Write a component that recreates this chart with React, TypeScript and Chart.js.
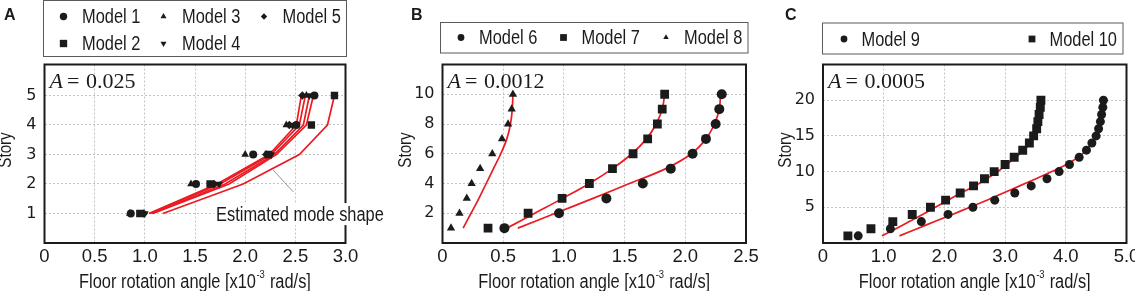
import React, { useEffect, useRef } from "react";
import { Chart, registerables } from "chart.js";
import { drawPoint } from "chart.js/helpers";

Chart.register(...registerables);

// ===== Panel A (A = 0.025), stories 1-5 =====
const storiesA = [1, 2, 3, 4, 5];
const model1 = [0.86, 1.51, 2.08, 2.51, 2.69];
const model2 = [0.95, 1.65, 2.23, 2.66, 2.89];
const model3 = [0.85, 1.46, 2.0, 2.41, 2.61];
const model4 = [1.0, 1.74, 2.26, 2.47, 2.64];
const model5 = [0.99, 1.69, 2.21, 2.44, 2.57];
const shapeModel1 = [1.08, 1.84, 2.31, 2.61, 2.68];
const shapeModel2 = [1.18, 1.98, 2.54, 2.82, 2.89];
const shapeModel3 = [1.05, 1.75, 2.26, 2.54, 2.6];
const shapeModel4 = [1.07, 1.8, 2.29, 2.58, 2.64];
const shapeModel5 = [1.04, 1.72, 2.24, 2.51, 2.56];
const xTicksA = [0, 0.5, 1.0, 1.5, 2.0, 2.5, 3.0];
const yTicksA = [1, 2, 3, 4, 5];

// ===== Panel B (A = 0.0012), stories 1-10 =====
const storiesB = [1, 2, 3, 4, 5, 6, 7, 8, 9, 10];
const model6 = [0.51, 0.96, 1.35, 1.65, 1.88, 2.06, 2.17, 2.25, 2.28, 2.3];
const model7 = [0.375, 0.705, 0.985, 1.21, 1.4, 1.57, 1.69, 1.77, 1.81, 1.83];
const model8 = [0.07, 0.14, 0.2, 0.24, 0.31, 0.41, 0.49, 0.54, 0.57, 0.58];
const shapeModel6 = [0.62, 0.93, 1.24, 1.54, 1.84, 2.05, 2.17, 2.24, 2.28, 2.29];
const shapeModel7 = [0.53, 0.76, 0.99, 1.21, 1.4, 1.56, 1.68, 1.76, 1.81, 1.83];
const shapeModel8 = [0.17, 0.235, 0.3, 0.36, 0.42, 0.48, 0.53, 0.56, 0.575, 0.58];
const xTicksB = [0, 0.5, 1.0, 1.5, 2.0, 2.5];
const yTicksB = [2, 4, 6, 8, 10];

// ===== Panel C (A = 0.0005), stories 1-20 =====
const storiesC = [1, 2, 3, 4, 5, 6, 7, 8, 9, 10, 11, 12, 13, 14, 15, 16, 17, 18, 19, 20];
const model9 = [0.58, 1.11, 1.62, 2.06, 2.47, 2.83, 3.16, 3.43, 3.69, 3.89, 4.06, 4.22, 4.34, 4.43, 4.5, 4.54, 4.57, 4.59, 4.61, 4.62];
const model10 = [0.41, 0.79, 1.15, 1.47, 1.77, 2.02, 2.26, 2.48, 2.66, 2.82, 3.0, 3.15, 3.29, 3.4, 3.47, 3.52, 3.54, 3.56, 3.58, 3.59];
const shapeModel9 = [1.26, 1.55, 1.84, 2.13, 2.42, 2.7, 2.97, 3.24, 3.51, 3.77, 4.01, 4.2, 4.34, 4.43, 4.49, 4.53, 4.56, 4.57, 4.58, 4.58];
const shapeModel10 = [0.97, 1.2, 1.42, 1.64, 1.85, 2.06, 2.27, 2.5, 2.7, 2.88, 3.03, 3.17, 3.31, 3.41, 3.47, 3.51, 3.54, 3.56, 3.57, 3.58];
const xTicksC = [0, 1.0, 2.0, 3.0, 4.0, 5.0];
const yTicksC = [5, 10, 15, 20];

// ---------- styling ----------
const SANS = '"Liberation Sans", Arial, sans-serif';
const SERIF = '"Liberation Serif", "Times New Roman", serif';
const INK = "#1b1b1b";
const RED = "#ea1b22";
const H = 291;
const NARROW_SCALE = 0.82;

type MarkerDef = {
  label: string;
  xs: number[];
  ys: number[];
  style: string;
  rotation: number;
  r: number;
  lr: number;
  col: number;
  row: number;
};
type LineDef = { xs: number[]; ys: number[]; tension: number };

type PanelCfg = {
  canvasLeft: number;
  canvasWidth: number;
  area: { left: number; right: number; top: number; bottom: number };
  xMax: number;
  yMax: number;
  xTicks: number[];
  yTicks: number[];
  letter: string;
  letterX: number;
  aValue: string;
  storyX: number;
  legend: { x: number; y: number; w: number; h: number; cols: number[]; rows: number[]; textOff: number };
  markers: MarkerDef[];
  lines: LineDef[];
  note?: { text: string; at: { x: number; y: number }; from: { x: number; y: number }; to: { x: number; y: number } };
};

const panels: PanelCfg[] = [
  {
    canvasLeft: 0,
    canvasWidth: 390,
    area: { left: 44.5, right: 345.5, top: 64.5, bottom: 243 },
    xMax: 3.0,
    yMax: 6.05,
    xTicks: xTicksA,
    yTicks: yTicksA,
    letter: "A",
    letterX: 4,
    aValue: "0.025",
    storyX: 11,
    legend: { x: 43.5, y: 0.5, w: 303, h: 56, cols: [63.5, 163.5, 264], rows: [16.5, 43.5], textOff: 18.5 },
    markers: [
      { label: "Model 1", xs: model1, ys: storiesA, style: "circle", rotation: 0, r: 4, lr: 3.7, col: 0, row: 0 },
      { label: "Model 2", xs: model2, ys: storiesA, style: "rect", rotation: 0, r: 5.2, lr: 5.2, col: 0, row: 1 },
      { label: "Model 3", xs: model3, ys: storiesA, style: "triangle", rotation: 0, r: 4.4, lr: 3.5, col: 1, row: 0 },
      { label: "Model 4", xs: model4, ys: storiesA, style: "triangle", rotation: 180, r: 4.4, lr: 3.5, col: 1, row: 1 },
      { label: "Model 5", xs: model5, ys: storiesA, style: "rectRot", rotation: 0, r: 4.2, lr: 3.2, col: 2, row: 0 },
    ],
    lines: [
      { xs: shapeModel1, ys: storiesA, tension: 0 },
      { xs: shapeModel2, ys: storiesA, tension: 0 },
      { xs: shapeModel3, ys: storiesA, tension: 0 },
      { xs: shapeModel4, ys: storiesA, tension: 0 },
      { xs: shapeModel5, ys: storiesA, tension: 0 },
    ],
    note: { text: "Estimated mode shape", at: { x: 1.71, y: 0.98 }, from: { x: 2.28, y: 2.47 }, to: { x: 2.48, y: 1.73 } },
  },
  {
    canvasLeft: 390,
    canvasWidth: 380,
    area: { left: 442.5, right: 746, top: 64.5, bottom: 243 },
    xMax: 2.5,
    yMax: 12,
    xTicks: xTicksB,
    yTicks: yTicksB,
    letter: "B",
    letterX: 411,
    aValue: "0.0012",
    storyX: 411,
    legend: { x: 440.5, y: 22.5, w: 307.5, h: 30.5, cols: [461, 563.5, 666], rows: [37.5], textOff: 18 },
    markers: [
      { label: "Model 6", xs: model6, ys: storiesB, style: "circle", rotation: 0, r: 5, lr: 3.4, col: 0, row: 0 },
      { label: "Model 7", xs: model7, ys: storiesB, style: "rect", rotation: 0, r: 6.2, lr: 4.8, col: 1, row: 0 },
      { label: "Model 8", xs: model8, ys: storiesB, style: "triangle", rotation: 0, r: 4.8, lr: 3.2, col: 2, row: 0 },
    ],
    lines: [
      { xs: shapeModel6, ys: storiesB, tension: 0.4 },
      { xs: shapeModel7, ys: storiesB, tension: 0.4 },
      { xs: shapeModel8, ys: storiesB, tension: 0.4 },
    ],
  },
  {
    canvasLeft: 770,
    canvasWidth: 365,
    area: { left: 823, right: 1126.5, top: 64.5, bottom: 243 },
    xMax: 5.0,
    yMax: 25,
    xTicks: xTicksC,
    yTicks: yTicksC,
    letter: "C",
    letterX: 785,
    aValue: "0.0005",
    storyX: 791,
    legend: { x: 822.5, y: 23, w: 300.5, h: 31, cols: [844, 1032], rows: [39], textOff: 17.5 },
    markers: [
      { label: "Model 9", xs: model9, ys: storiesC, style: "circle", rotation: 0, r: 4.5, lr: 3.4, col: 0, row: 0 },
      { label: "Model 10", xs: model10, ys: storiesC, style: "rect", rotation: 0, r: 6.3, lr: 4.8, col: 1, row: 0 },
    ],
    lines: [
      { xs: shapeModel9, ys: storiesC, tension: 0.4 },
      { xs: shapeModel10, ys: storiesC, tension: 0.4 },
    ],
  },
];

const toPoints = (xs: number[], ys: number[]) => xs.map((x, i) => ({ x, y: ys[i] }));

// condensed text (emulates a narrow sans face by horizontal scaling)
function narrowWidth(ctx: CanvasRenderingContext2D, text: string, size: number) {
  ctx.font = `${size}px ${SANS}`;
  return ctx.measureText(text).width * NARROW_SCALE;
}
function fillNarrow(ctx: CanvasRenderingContext2D, text: string, x: number, y: number, size: number) {
  ctx.save();
  ctx.font = `${size}px ${SANS}`;
  ctx.translate(x, y);
  ctx.scale(NARROW_SCALE, 1);
  ctx.textAlign = "left";
  ctx.fillText(text, 0, 0);
  ctx.restore();
}

const decorPlugin = {
  id: "decor",
  afterDraw(chart: any, _args: any, o: any) {
    const cfg: PanelCfg = o.cfg;
    const off = cfg.canvasLeft;
    const ctx = chart.ctx as CanvasRenderingContext2D;
    const { left, right, top, bottom } = chart.chartArea;
    const sx = chart.scales.x;
    const sy = chart.scales.y;
    ctx.save();

    // plot frame
    ctx.strokeStyle = INK;
    ctx.lineWidth = 2;
    ctx.strokeRect(left, top, right - left, bottom - top);

    // "A = value" label
    ctx.fillStyle = INK;
    ctx.textBaseline = "alphabetic";
    ctx.textAlign = "left";
    const ax = left + 5;
    const ay = top + 23.5;
    ctx.font = `italic 22px ${SERIF}`;
    ctx.fillText("A", ax, ay);
    ctx.font = `22px ${SERIF}`;
    ctx.fillText("=", ax + 17.5, ay);
    ctx.fillText(cfg.aValue, ax + 36.5, ay);

    // panel letter
    ctx.font = `bold 16px ${SANS}`;
    ctx.fillText(cfg.letter, cfg.letterX - off, 20);

    // x-axis title with superscript
    const cx = (left + right) / 2;
    const p1 = "Floor rotation angle [x10";
    const p2 = "-3";
    const p3 = " rad/s]";
    const w1 = narrowWidth(ctx, p1, 20);
    const w2 = narrowWidth(ctx, p2, 11.5);
    const w3 = narrowWidth(ctx, p3, 20);
    const tx = cx - (w1 + w2 + w3 + 1) / 2;
    fillNarrow(ctx, p1, tx, 288, 20);
    fillNarrow(ctx, p2, tx + w1 + 0.5, 277.5, 11.5);
    fillNarrow(ctx, p3, tx + w1 + w2 + 1, 288, 20);

    // y-axis title
    ctx.save();
    ctx.translate(cfg.storyX - off, 150);
    ctx.rotate(-Math.PI / 2);
    const sw = narrowWidth(ctx, "Story", 18.5);
    fillNarrow(ctx, "Story", -sw / 2, 0, 18.5);
    ctx.restore();

    // legend box
    const lg = cfg.legend;
    ctx.strokeStyle = "#5a5a5a";
    ctx.lineWidth = 1;
    ctx.strokeRect(lg.x - off, lg.y, lg.w, lg.h);
    ctx.textBaseline = "middle";
    for (const m of cfg.markers) {
      const mx = lg.cols[m.col] - off;
      const my = lg.rows[m.row];
      ctx.fillStyle = INK;
      drawPoint(ctx, { pointStyle: m.style as any, rotation: m.rotation, radius: m.lr, borderWidth: 0 } as any, mx, my);
      fillNarrow(ctx, m.label, mx + lg.textOff, my + 1, 20);
    }

    // annotation
    if (cfg.note) {
      const n = cfg.note;
      ctx.strokeStyle = "#8a8a8a";
      ctx.lineWidth = 0.9;
      ctx.beginPath();
      ctx.moveTo(sx.getPixelForValue(n.from.x), sy.getPixelForValue(n.from.y));
      ctx.lineTo(sx.getPixelForValue(n.to.x), sy.getPixelForValue(n.to.y));
      ctx.stroke();
      const tw = narrowWidth(ctx, n.text, 20);
      const px = sx.getPixelForValue(n.at.x);
      const py = sy.getPixelForValue(n.at.y);
      ctx.fillStyle = "#ffffff";
      ctx.fillRect(px - 2, py - 11, tw + 4, 22);
      ctx.fillStyle = INK;
      ctx.textBaseline = "middle";
      fillNarrow(ctx, n.text, px, py + 1, 20);
    }
    ctx.restore();
  },
};

function Panel({ cfg }: { cfg: PanelCfg }) {
  const ref = useRef<HTMLCanvasElement | null>(null);
  useEffect(() => {
    const canvas = ref.current;
    if (!canvas) return;
    const datasets: any[] = [];
    cfg.markers.forEach((m) => {
      datasets.push({
        label: m.label,
        data: toPoints(m.xs, m.ys),
        showLine: false,
        pointStyle: m.style,
        pointRotation: m.rotation,
        pointRadius: m.r,
        pointBorderWidth: 0,
        backgroundColor: INK,
        borderColor: INK,
        order: 0,
      });
    });
    cfg.lines.forEach((l, i) => {
      datasets.push({
        label: `shape ${i}`,
        data: toPoints(l.xs, l.ys),
        showLine: true,
        pointRadius: 0,
        borderColor: RED,
        borderWidth: 1.7,
        tension: l.tension,
        fill: false,
        order: 1,
      });
    });
    const area = cfg.area;
    const chart = new Chart(canvas, {
      type: "scatter",
      data: { datasets },
      plugins: [decorPlugin as any],
      options: {
        responsive: false,
        maintainAspectRatio: false,
        animation: false,
        events: [],
        layout: {
          padding: {
            left: 0,
            top: area.top,
            right: cfg.canvasLeft + cfg.canvasWidth - area.right,
            bottom: 0,
          },
        },
        plugins: {
          legend: { display: false },
          tooltip: { enabled: false },
          decor: { cfg },
        } as any,
        scales: {
          x: {
            type: "linear",
            min: 0,
            max: cfg.xMax,
            afterBuildTicks: (s: any) => {
              s.ticks = cfg.xTicks.map((v) => ({ value: v }));
            },
            afterFit: (s: any) => {
              s.height = H - area.bottom;
              s.paddingLeft = 0;
              s.paddingRight = 0;
            },
            grid: { color: "#c4c4c4", lineWidth: 1, drawTicks: false },
            border: { display: false, dash: [2, 2] },
            ticks: {
              padding: 3,
              color: INK,
              font: { family: SANS, size: 18.5 },
              maxRotation: 0,
              autoSkip: false,
              callback: (v: any) => (Number(v) === 0 ? "0" : Number(v).toFixed(1)),
            },
          },
          y: {
            type: "linear",
            min: 0,
            max: cfg.yMax,
            afterBuildTicks: (s: any) => {
              s.ticks = cfg.yTicks.map((v) => ({ value: v }));
            },
            afterFit: (s: any) => {
              s.width = area.left - cfg.canvasLeft;
              s.paddingTop = 0;
              s.paddingBottom = 0;
            },
            grid: { color: "#c4c4c4", lineWidth: 1, drawTicks: false },
            border: { display: false, dash: [2, 2] },
            ticks: {
              padding: 8,
              color: INK,
              font: { family: '"DejaVu Sans", sans-serif', size: 16 },
              autoSkip: false,
              callback: (v: any) => String(v),
            },
          },
        },
      } as any,
    });
    return () => chart.destroy();
  }, [cfg]);
  return (
    <canvas
      ref={ref}
      width={cfg.canvasWidth}
      height={H}
      style={{ position: "absolute", left: cfg.canvasLeft, top: 0, width: cfg.canvasWidth, height: H }}
    />
  );
}

export default function App() {
  return (
    <div style={{ position: "absolute", left: 0, top: 0, width: 1135, height: H, background: "#ffffff", overflow: "hidden" }}>
      {panels.map((p, i) => (
        <Panel key={i} cfg={p} />
      ))}
    </div>
  );
}
